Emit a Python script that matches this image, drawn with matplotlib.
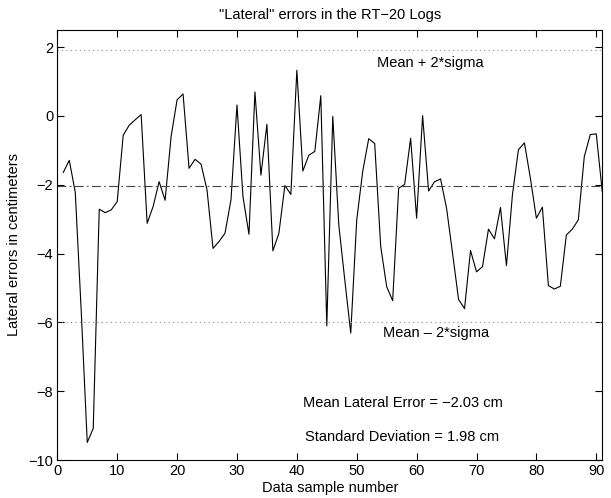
import matplotlib
matplotlib.use("Agg")
import matplotlib.pyplot as plt
import numpy as np

plt.rcParams['font.family'] = ['Liberation Sans', 'DejaVu Sans']

# lateral error for each data sample (cm)
muestras = list(range(1, 92))
errores = [
    -1.64, -1.29, -2.22, -5.70, -9.49, -9.08, -2.71, -2.81, -2.73, -2.49,
    -0.56, -0.27, -0.11, 0.04, -3.12, -2.63, -1.91, -2.45, -0.60, 0.47,
    0.64, -1.52, -1.26, -1.40, -2.15, -3.85, -3.65, -3.41, -2.44, 0.32,
    -2.34, -3.44, 0.70, -1.72, -0.24, -3.92, -3.41, -2.02, -2.28, 1.33,
    -1.60, -1.14, -1.03, 0.59, -6.10, -0.01, -3.16, -4.76, -6.31, -3.02,
    -1.61, -0.66, -0.80, -3.79, -4.96, -5.37, -2.10, -1.99, -0.65, -2.97,
    0.01, -2.18, -1.91, -1.83, -2.68, -3.99, -5.33, -5.60, -3.91, -4.53,
    -4.38, -3.29, -3.57, -2.66, -4.35, -2.29, -0.98, -0.78, -1.81, -2.97,
    -2.65, -4.93, -5.03, -4.95, -3.46, -3.29, -3.02, -1.18, -0.54, -0.52,
    -2.20,
]
media = -2.03
sigma = 1.98

fs = 10.5

fig = plt.figure(figsize=(6.11, 4.98), dpi=100)
ax = fig.add_axes([0.0938, 0.0763, 0.8919, 0.8635])

ax.plot(muestras, errores, color='black', linewidth=0.8)
ax.axhline(media, color='#444444', linestyle=(0, (8, 3, 1.5, 3)), linewidth=0.8)
ax.axhline(media + 2 * sigma, color='#888888', linestyle=(0, (1, 3)), linewidth=0.8)
ax.axhline(media - 2 * sigma, color='#888888', linestyle=(0, (1, 3)), linewidth=0.8)

ax.text(53.4, 1.53, 'Mean + 2*sigma', fontsize=fs, va='center')
ax.text(54.4, -6.3, 'Mean \u2013 2*sigma', fontsize=fs, va='center')
ax.text(41.0, -8.33, 'Mean Lateral Error = \u22122.03 cm', fontsize=fs, va='center')
ax.text(41.3, -9.32, 'Standard Deviation = 1.98 cm', fontsize=fs, va='center')

ax.set_xlim(0, 91)
ax.set_ylim(-10, 2.5)
ax.set_xticks(np.arange(0, 91, 10))
ax.set_yticks(np.arange(-10, 3, 2))
ax.tick_params(direction='in', top=True, right=True, labelsize=fs, length=5, width=0.8, pad=3)
for s in ax.spines.values():
    s.set_linewidth(0.8)

ax.set_title('"Lateral" errors in the RT\u221220 Logs', fontsize=fs, pad=8)
ax.set_xlabel('Data sample number', fontsize=fs, labelpad=2)
ax.set_ylabel('Lateral errors in centimeters', fontsize=fs, labelpad=5)

fig.savefig('out.png', dpi=100)
